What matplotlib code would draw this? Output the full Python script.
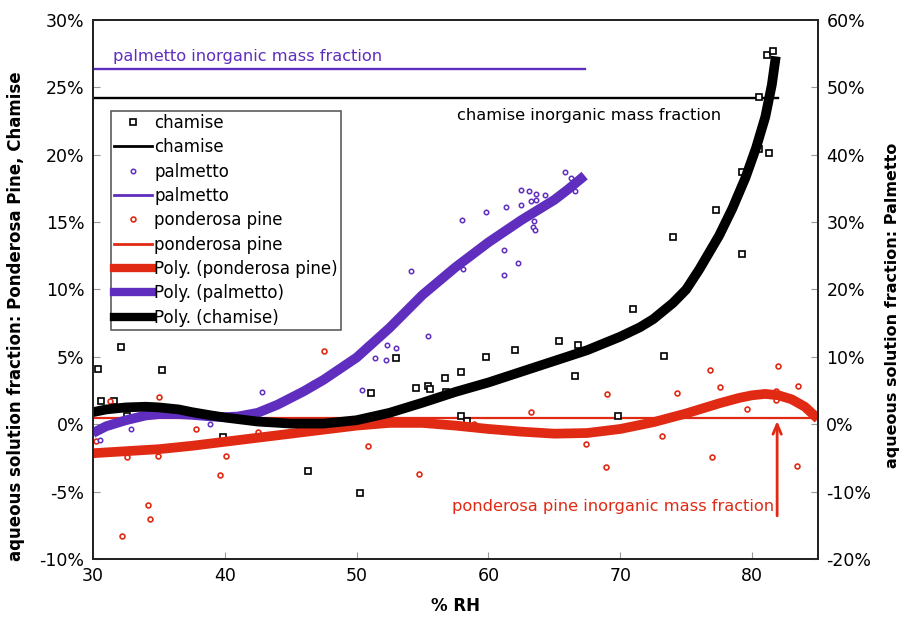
import matplotlib.pyplot as plt
from matplotlib.ticker import PercentFormatter, MultipleLocator
from matplotlib.lines import Line2D

plt.rcParams["axes.unicode_minus"] = False

# colours
BLACK = "#000000"
PURPLE = "#5F2EBE"
RED = "#E02A14"

# chamise points (left axis, %)
chamise_rh = [32.1, 30.4, 35.2, 30.6, 31.6, 32.6, 39.85, 53.0, 51.1, 54.5, 55.4, 55.6, 56.7, 56.8,
              46.3, 50.25, 57.9, 59.8, 62.05, 65.35, 66.8, 66.6, 57.9, 58.4, 69.8, 71.0, 73.3,
              74.0, 77.3, 79.2, 79.2, 80.5, 81.3, 80.5, 81.1, 81.6]
chamise_frac = [5.7, 4.1, 4.0, 1.7, 1.7, 0.6, -0.95, 4.9, 2.3, 2.7, 2.85, 2.6, 3.4, 2.4,
                -3.5, -5.1, 3.9, 5.0, 5.5, 6.2, 5.85, 3.55, 0.6, 0.25, 0.6, 8.55, 5.1,
                13.9, 15.9, 18.7, 12.65, 20.4, 20.1, 24.25, 27.4, 27.7]

# ponderosa pine points (left axis, %)
pond_rh = [31.3, 35.0, 30.2, 32.6, 34.9, 37.8, 40.1, 39.6, 34.2, 34.3, 32.2, 42.5, 47.55, 50.9,
           54.7, 63.2, 69.0, 67.4, 68.9, 58.9, 74.3, 73.2, 76.8, 77.6, 76.95, 79.6, 82.0,
           81.8, 81.8, 83.5, 83.4]
pond_frac = [1.7, 2.0, -1.25, -2.45, -2.35, -0.35, -2.35, -3.8, -6.0, -7.05, -8.3, -0.55, 5.4, -1.6,
             -3.7, 0.9, 2.25, -1.45, -3.15, 0.05, 2.3, -0.9, 4.05, 2.8, -2.45, 1.1, 4.3,
             2.5, 1.8, 2.85, -3.1]

# palmetto points (right axis, %)
palm_rh = [30.5, 32.9, 38.9, 42.8, 46.7, 50.4, 50.8, 51.4, 52.2, 52.3, 53.0, 55.45, 54.1,
           61.15, 58.05, 61.2, 62.25, 58.0, 59.85, 61.3, 62.5, 63.1, 62.5, 63.2, 63.6, 63.6,
           64.3, 63.45, 63.4, 63.5, 65.8, 66.3, 66.55]
palm_frac = [-2.3, -0.75, 0.1, 4.8, 6.1, 5.1, 11.8, 9.9, 9.6, 11.7, 11.3, 13.1, 22.7,
             25.8, 23.0, 22.1, 24.0, 30.3, 31.5, 32.2, 34.7, 34.6, 32.6, 33.2, 34.1, 33.3,
             34.0, 30.2, 29.3, 28.8, 37.4, 36.5, 34.6]

# inorganic mass fractions
chamise_inorg = 24.2
palm_inorg = 52.8
pond_inorg = 0.45
chamise_inorg_rh = [30, 82]
palm_inorg_rh = [30, 67.3]
pond_inorg_rh = [30, 85]

# polynomial trend lines
pond_poly_rh = [30, 32.5, 35, 37.5, 40, 42.5, 45, 47.5, 50, 52.5, 55, 57.5, 60, 62.5, 65, 67.5,
                70, 72.5, 75, 77.5, 79, 80, 81, 82, 83, 84, 85]
pond_poly = [-2.15, -2.0, -1.85, -1.6, -1.3, -1.0, -0.7, -0.4, -0.1, 0.1, 0.1, -0.1, -0.35, -0.55,
             -0.7, -0.65, -0.35, 0.15, 0.8, 1.55, 1.95, 2.15, 2.25, 2.15, 1.85, 1.3, 0.4]

palm_poly_rh = [30, 31, 32.5, 34, 35, 36.5, 37.5, 39, 40, 41, 42.5, 44, 45, 46, 47.5, 50, 52.5,
                55, 57.5, 60, 62.5, 65, 66, 67.3]
palm_poly = [-1.3, -0.3, 0.6, 1.3, 1.5, 1.5, 1.4, 1.15, 1.05, 1.15, 1.7, 2.9, 3.9, 4.9, 6.6, 9.9,
             14.3, 19.2, 23.3, 27.0, 30.3, 33.3, 34.8, 36.9]

chamise_poly_rh = [30, 31, 32.5, 34, 35, 36.5, 37.5, 39, 40, 42.5, 45, 47.5, 50, 52.5, 55, 57.5,
                   60, 62.5, 65, 67.5, 70, 71.5, 72.5, 74, 75, 76, 77.5, 78.5, 79.5, 80.3,
                   81, 81.5, 81.8]
chamise_poly = [0.9, 1.1, 1.25, 1.3, 1.25, 1.1, 0.9, 0.65, 0.5, 0.2, 0.05, 0.05, 0.3, 0.85, 1.6,
                2.4, 3.1, 3.9, 4.7, 5.5, 6.5, 7.2, 7.8, 9.0, 10.0, 11.5, 14.0, 16.0, 18.3, 20.5,
                22.8, 25.2, 27.3]

fig = plt.figure(figsize=(8.99, 6.17), dpi=100)
ax = fig.add_axes([0.1034, 0.094, 0.8065, 0.8736])
ax2 = ax.twinx()

# primary axis
ax.plot(chamise_inorg_rh, [chamise_inorg] * 2, color=BLACK, lw=1.7)
ax.plot(pond_inorg_rh, [pond_inorg] * 2, color=RED, lw=1.6)
ax.plot(chamise_rh, chamise_frac, ls="none", marker="s", ms=4, mfc="white", mec=BLACK, mew=1.2)
ax.plot(pond_rh, pond_frac, ls="none", marker="o", ms=3.5, mfc="white", mec=RED, mew=1.2)
ax.plot(pond_poly_rh, pond_poly, color=RED, lw=7, solid_capstyle="butt")

# secondary axis
ax2.plot(palm_inorg_rh, [palm_inorg] * 2, color=PURPLE, lw=1.7)
ax2.plot(palm_rh, palm_frac, ls="none", marker="o", ms=3.2, mfc="white", mec=PURPLE, mew=1.1)
ax2.plot(palm_poly_rh, palm_poly, color=PURPLE, lw=7, solid_capstyle="butt")
# chamise trend drawn on top, still in primary-axis units
ax2.plot(chamise_poly_rh, chamise_poly, color=BLACK, lw=7, solid_capstyle="butt",
         transform=ax.transData)

ax.set_xlim(30, 85)
ax.set_ylim(-10, 30)
ax2.set_ylim(-20, 60)

ax.xaxis.set_major_locator(MultipleLocator(10))
ax.yaxis.set_major_locator(MultipleLocator(5))
ax2.yaxis.set_major_locator(MultipleLocator(10))
ax.yaxis.set_major_formatter(PercentFormatter(decimals=0))
ax2.yaxis.set_major_formatter(PercentFormatter(decimals=0))

for a in (ax, ax2):
    a.tick_params(direction="in", length=5, color="#999999", labelsize=12.5, pad=6)
    for s in a.spines.values():
        s.set_linewidth(1.3)
        s.set_color("#222222")

ax.set_xlabel("% RH", fontsize=12, fontweight="bold")
ax.set_ylabel("aqueous solution fraction: Ponderosa Pine, Chamise", fontsize=12, fontweight="bold")
ax2.set_ylabel("aqueous solution fraction: Palmetto", fontsize=11.5, fontweight="bold")
ax.xaxis.set_label_coords(0.5, -0.071)
ax.yaxis.set_label_coords(-0.094, 0.45)
ax2.yaxis.set_label_coords(1.093, 0.47)

ax.text(31.5, 26.75, "palmetto inorganic mass fraction", color=PURPLE, fontsize=11.7, va="bottom")
ax.text(57.6, 23.5, "chamise inorganic mass fraction", color=BLACK, fontsize=11.7, va="top")
ax.text(81.7, -6.1, "ponderosa pine inorganic mass fraction", color=RED, fontsize=11.7,
        ha="right", va="center")
ax.annotate("", xy=(81.9, pond_inorg), xytext=(81.9, -7.0),
            arrowprops=dict(arrowstyle="->,head_length=0.7,head_width=0.3", color=RED, lw=2))

handles = [
    Line2D([], [], ls="none", marker="s", ms=4, mfc="white", mec=BLACK, mew=1.2),
    Line2D([], [], color=BLACK, lw=2),
    Line2D([], [], ls="none", marker="o", ms=3.2, mfc="white", mec=PURPLE, mew=1.1),
    Line2D([], [], color=PURPLE, lw=2),
    Line2D([], [], ls="none", marker="o", ms=3.5, mfc="white", mec=RED, mew=1.2),
    Line2D([], [], color=RED, lw=2),
    Line2D([], [], color=RED, lw=6),
    Line2D([], [], color=PURPLE, lw=6),
    Line2D([], [], color=BLACK, lw=6),
]
labels = ["chamise", "chamise", "palmetto", "palmetto", "ponderosa pine", "ponderosa pine",
          "Poly. (ponderosa pine)", "Poly. (palmetto)", "Poly. (chamise)"]
leg = ax2.legend(handles, labels, loc="upper left", bbox_to_anchor=(0.0245, 0.832),
                 fontsize=12, frameon=True, fancybox=False, edgecolor="#333333",
                 handlelength=2.3, handletextpad=0.1, labelspacing=0.38, borderpad=0.2,
                 borderaxespad=0)
leg.get_frame().set_linewidth(1.2)

fig.savefig("out.png", dpi=100)
